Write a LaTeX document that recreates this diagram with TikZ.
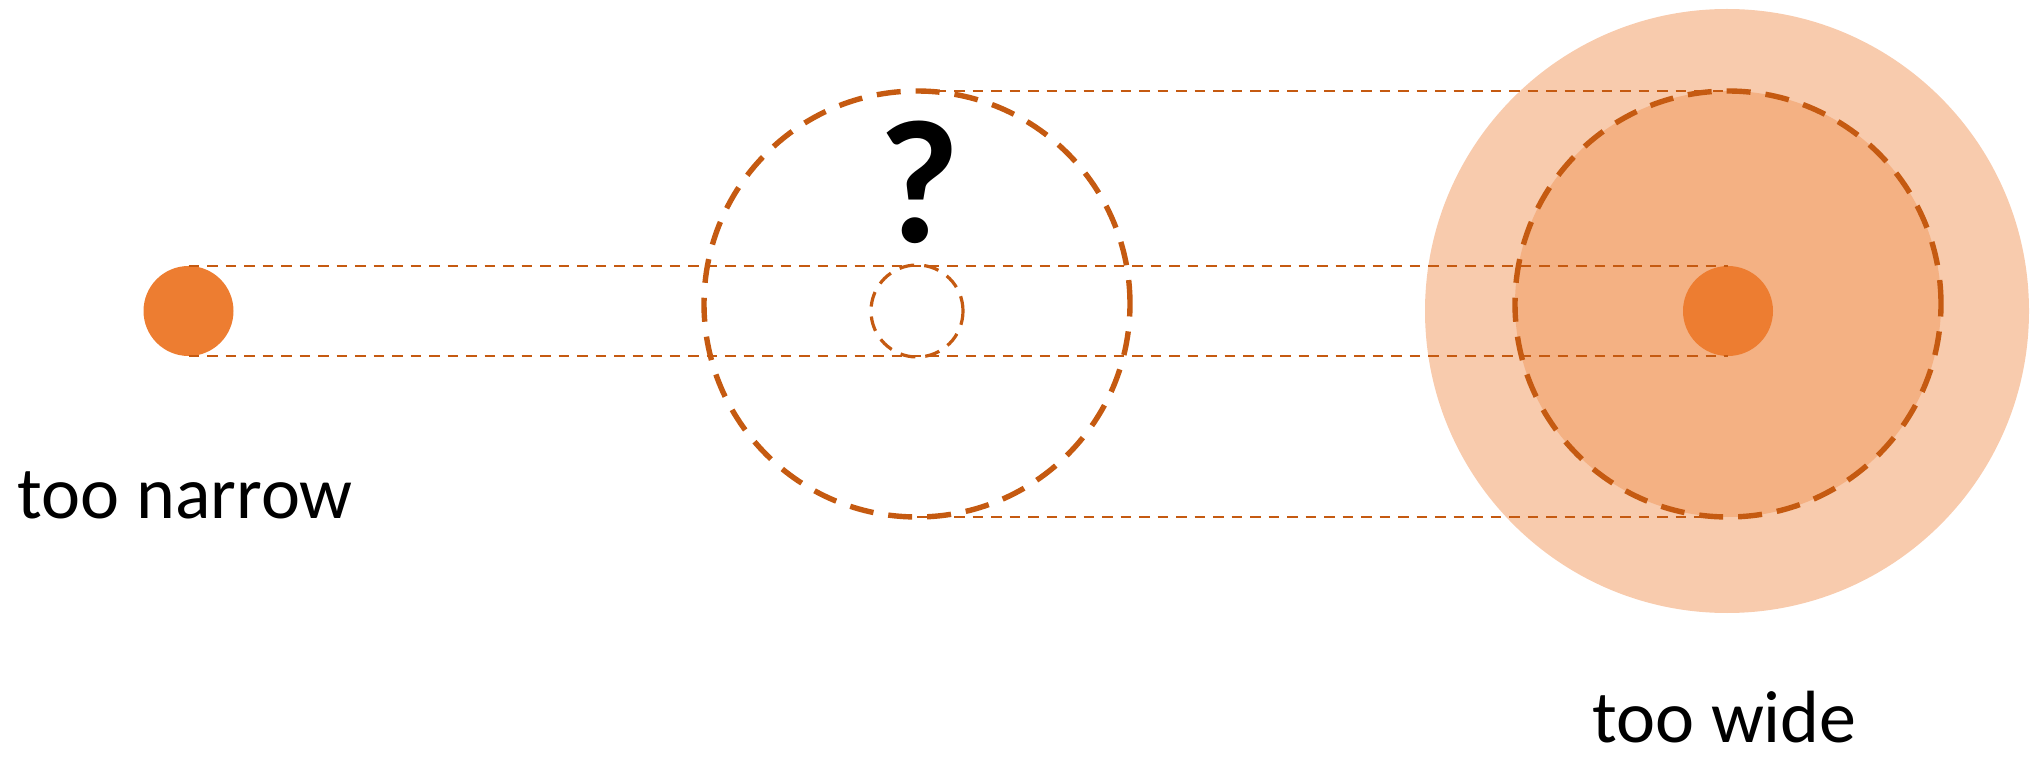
\documentclass[tikz,border=0pt]{standalone}
\usepackage{fontspec}
\setmainfont{Carlito}
\definecolor{dotorange}{HTML}{ED7D31}
\definecolor{lightorange}{HTML}{F8CBAD}
\definecolor{midorange}{HTML}{F4B183}
\definecolor{dashorange}{HTML}{C55A11}
\tikzset{
  disc/.style={circle, inner sep=0pt, outer sep=0pt, minimum size=#1},
  bigdash/.style={draw=dashorange, line width=2.7pt, dash pattern=on 12pt off 7.5pt},
  smalldash/.style={draw=dashorange, line width=1.6pt, dash pattern=on 7.5pt off 5pt},
  guide/.style={draw=dashorange, line width=1.35pt, dash pattern=on 5.25pt off 4pt},
  label/.style={font=\fontsize{37pt}{44pt}\selectfont, anchor=base, inner sep=0pt, text depth=0pt},
}
\begin{document}
\begin{tikzpicture}[x=0.5pt, y=-0.5pt]
\useasboundingbox (0,0) rectangle (2031,759);
% right side fills
\node[disc=302pt, fill=lightorange] (rlight) at (1727,311) {};
\node[disc=213pt, fill=midorange, bigdash] (rmed) at (1728,304) {};
\node[disc=45pt, fill=dotorange] (rsmall) at (1728,311) {};
% left dot
\node[disc=45pt, fill=dotorange] (ln) at (188.5,311) {};
% middle dashed circles
\node[disc=213pt, bigdash] (mbig) at (917,304) {};
\node[disc=46pt, smalldash] (msmall) at (917,311) {};
% guide lines
\draw[guide] (mbig.north) -- (rmed.north);
\draw[guide] (ln.north) -- (rsmall.north);
\draw[guide] (ln.south) -- (rsmall.south);
\draw[guide] (mbig.south) -- (rmed.south);
% texts
\node[label] (narrow) at (185,518) {too narrow};
\node[label] (wide) at (1724.5,742) {too wide};
\node[anchor=base, inner sep=0pt, font=\fontsize{88pt}{96pt}\selectfont\bfseries] (q) at (919,243) {?};
\end{tikzpicture}
\end{document}
